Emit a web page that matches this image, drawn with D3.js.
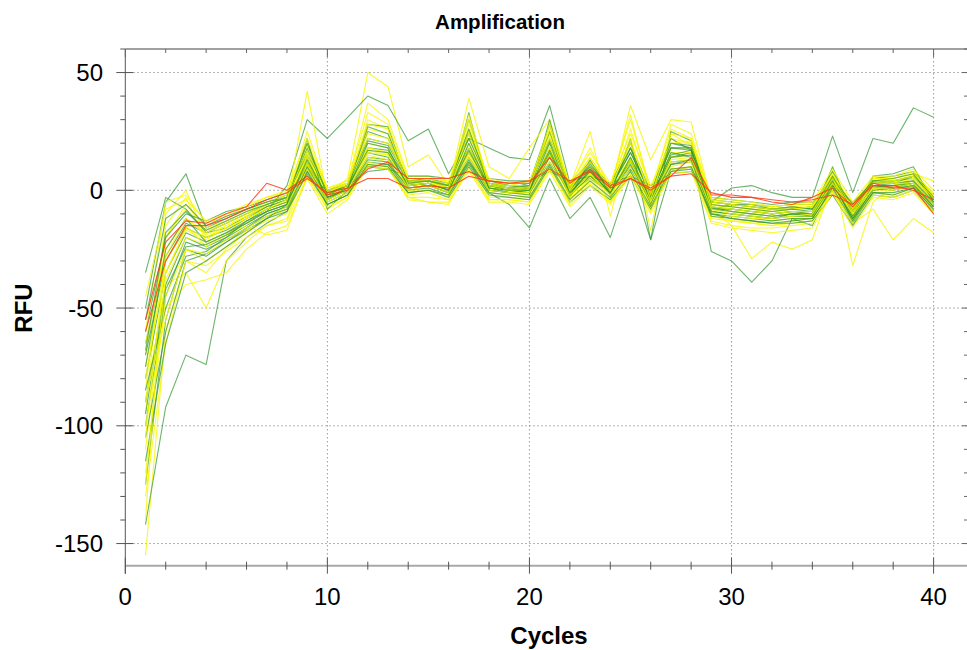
<!DOCTYPE html>
<html>
<head>
<meta charset="utf-8">
<script src="https://cdn.jsdelivr.net/npm/d3@7"></script>
<style>
    body { margin: 0; background: #fff; }
    svg { display: block; font-family: "Liberation Sans", Arial, sans-serif; }
    .trace { fill: none; stroke-width: 1.1; stroke-linejoin: round; }
</style>
</head>
<body>
<main id="root"></main>
<script>
"use strict";

// cycles 1..40
var cycles = d3.range( 1, 41 );

var x_ticks = [0, 10, 20, 30, 40];
var y_ticks = [50, 0, -50, -100, -150];

// green wells
var green_1  = [-65,-28,-14,-18,-16,-11,-7,-4,10,-1,1,14,13,3,2,1,14,2,1,0,15,1,6,0,10,-2,12,13,-5,1,2,-1,-3,-3,23,-1,22,20,35,31];
var green_2  = [-80,-35,-18,-22,-18,-14,-9,2,30,22,31,40,36,21,26,7,22,18,14,13,36,3,12,1,18,-2,20,18,-8,-6,-7,-8,-7,-8,4,-9,3,4,5,-3];
var green_3  = [-142,-92,-70,-74,-30,-20,-14,-9,8,-3,0,10,11,2,3,0,12,1,0,-1,12,-1,5,-1,9,-4,11,12,-8,-9,-10,-11,-10,-10,2,-10,1,0,2,-5];
var green_4  = [-125,-55,-25,-28,-22,-17,-12,-6,14,-4,1,18,17,4,5,2,18,3,2,1,18,0,8,-1,13,-6,14,16,-7,-8,-9,-10,-9,-9,5,-9,3,2,4,-4];
var green_5  = [-70,-30,-16,-20,-17,-12,-7,-4,12,-2,2,16,14,3,4,1,16,2,0,1,16,-1,7,0,12,-3,15,17,-26,-30,-39,-30,-12,-15,3,-12,2,1,3,-6];
var green_6  = [-90,-40,-20,-24,-20,-15,-10,-7,9,-5,-1,12,11,0,1,-2,12,-1,-6,-16,5,-12,-3,-20,6,-21,8,10,-10,-11,-12,-13,-12,-12,0,-14,-1,-2,1,-8];
var green_7  = [-50,-5,7,-16,-12,-8,-5,-2,15,0,3,22,20,5,5,3,24,4,2,2,22,2,10,1,16,-1,18,18,-4,-5,-6,-7,-6,-6,6,-7,4,3,6,-2];
var green_8  = [-35,-3,-8,-18,-14,-10,-6,-3,18,-1,2,25,22,4,4,2,30,3,1,3,28,1,12,2,20,-1,22,17,-5,-6,-6,-8,-8,-7,8,-8,5,6,8,-3];
var green_9  = [-100,-45,-22,-25,-21,-16,-11,-8,8,-6,-2,10,9,-1,0,-3,10,-2,-3,-4,10,-5,2,-4,6,-8,8,9,-11,-12,-13,-14,-14,-13,-2,-15,-2,-3,0,-9];
var green_10 = [-60,-20,-10,-13,-9,-7,-4,-1,6,0,2,8,9,6,6,5,8,5,4,4,8,4,6,3,6,2,7,8,-3,-4,-5,-6,-5,-5,2,-5,3,3,4,-5];
var green_11 = [-85,-50,-28,-26,-20,-13,-9,-6,22,-8,0,28,27,2,3,0,33,0,-1,-2,30,-3,13,-2,22,-21,25,21,-9,-10,-11,-12,-10,-11,10,-11,6,7,10,-5];
var green_12 = [-75,-25,-12,-22,-18,-13,-8,-5,11,-3,0,20,18,1,2,-1,20,1,-1,0,20,-2,9,-2,14,-4,16,14,-8,-8,-9,-10,-9,-10,4,-13,1,2,3,-7];
var green_13 = [-105,-60,-30,-27,-22,-16,-10,-7,10,-4,0,13,12,1,2,-1,13,0,-1,-1,14,-2,6,-1,11,-5,11,13,-9,-10,-11,-12,-11,-11,3,-12,0,1,2,-7];
var green_14 = [-55,-12,-6,-15,-11,-8,-5,-3,17,-1,2,21,19,4,4,2,22,3,1,2,21,1,9,1,16,-2,18,17,-5,-6,-7,-8,-7,-8,5,-6,4,4,6,-3];
var green_15 = [-95,-42,-24,-23,-19,-14,-9,-6,13,-3,1,17,16,2,3,0,17,1,0,0,17,-1,8,-1,12,-4,14,15,-7,-9,-10,-11,-10,-10,3,-11,2,1,3,-6];
var green_16 = [-68,-18,-9,-17,-13,-9,-6,-3,20,-2,2,27,24,3,4,2,26,2,1,2,25,0,11,1,18,-3,20,19,-6,-7,-8,-9,-8,-9,6,-9,4,5,7,-4];
var green_17 = [-115,-65,-35,-30,-24,-18,-12,-9,7,-6,-2,11,10,-1,0,-2,11,-1,-2,-3,11,-4,4,-3,8,-7,9,10,-10,-12,-13,-14,-13,-12,1,-13,-1,-1,1,-8];

// yellow wells
var yellow_1  = [-155,-60,-30,-35,-25,-18,-12,-8,12,-4,0,20,18,0,2,-1,18,0,-1,-2,16,-3,8,-2,14,-5,14,16,-10,-12,-14,-15,-13,-12,2,-12,0,0,2,-6];
var yellow_2  = [-95,-10,0,-20,-15,-11,-7,-4,16,-2,5,50,44,10,15,2,22,3,2,4,20,1,10,1,18,-2,18,18,-6,-7,-8,-9,-8,-8,6,-8,4,3,6,-1];
var yellow_3  = [-85,-15,-3,-22,-18,-12,-8,-5,42,-3,1,30,26,2,3,0,25,2,0,1,24,0,12,0,26,-1,22,20,-6,-7,-8,-10,-9,-9,5,-9,3,4,6,-3];
var yellow_4  = [-110,-40,-35,-50,-30,-22,-15,-12,10,-6,-2,14,12,-2,-1,-4,12,-3,-3,-4,12,-4,5,-4,10,-6,10,12,-11,-13,-14,-13,-12,-12,1,-12,-1,-2,1,-7];
var yellow_5  = [-70,-20,-8,-17,-14,-10,-6,-3,14,-1,2,18,16,2,3,1,20,2,0,1,18,0,8,0,14,-3,16,16,-8,-15,-29,-22,-25,-21,3,-10,2,2,4,-4];
var yellow_6  = [-65,-25,-12,-19,-15,-11,-6,-3,13,-2,1,17,15,3,3,1,16,1,0,0,17,0,7,-1,13,-4,14,15,-7,-9,-10,-11,-10,-11,9,-32,-5,2,3,-5];
var yellow_7  = [-80,-30,-15,-24,-19,-15,-19,-17,6,-8,-3,12,10,-4,-5,-6,10,-4,-4,-5,10,-6,3,-5,8,-8,8,10,-12,-13,-14,-15,-14,-13,0,-14,-8,-21,-12,-18];
var yellow_8  = [-75,-35,-17,-21,-16,-12,-8,-5,12,-3,1,18,16,1,2,0,18,1,0,0,18,-1,9,-1,36,13,30,29,-4,-6,-7,-8,-7,-7,6,-7,4,3,7,4];
var yellow_9  = [-90,-38,-20,-23,-19,-14,-9,-6,15,-2,2,24,22,3,4,1,39,10,5,18,30,2,25,-11,22,-17,24,19,-6,-8,-9,-10,-9,-10,4,-10,2,2,5,-4];
var yellow_10 = [-140,-20,-6,-16,-13,-9,-5,-2,20,0,3,37,30,6,6,3,28,4,3,3,26,2,14,2,30,0,26,22,-5,-6,-7,-9,-8,-7,7,-7,5,5,8,-2];
var yellow_11 = [-100,-50,-40,-38,-35,-25,-18,-15,5,-10,-4,10,9,-3,-5,-5,8,-5,-5,-6,8,-7,2,-6,6,-10,7,8,-14,-16,-17,-18,-17,-16,-1,-16,-3,-4,-1,-10];
var yellow_12 = [-60,-5,-2,-14,-11,-7,-3,0,22,1,4,26,24,5,5,4,26,5,3,4,24,3,16,3,24,2,20,21,-3,-4,-5,-7,-6,-5,9,-5,6,6,9,0];
var yellow_13 = [-120,-45,-25,-30,-24,-17,-13,-10,9,-5,-1,15,13,0,0,-2,14,-1,-2,-3,14,-3,6,-3,12,-7,12,13,-9,-11,-12,-12,-11,-11,3,-11,1,0,2,-8];
var yellow_14 = [-45,-8,-4,-13,-10,-6,-3,-1,19,1,3,33,28,5,5,2,32,3,2,2,28,2,18,1,32,-1,28,24,-4,-5,-6,-7,-6,-6,7,-6,5,5,7,-1];
var yellow_15 = [-130,-65,-30,-32,-26,-20,-15,-13,6,-7,-3,11,10,-3,-3,-4,9,-4,-4,-5,9,-5,4,-5,7,-9,9,10,-13,-15,-16,-16,-15,-14,-1,-13,-2,-3,0,-9];
var yellow_16 = [-105,-28,-12,-18,-14,-10,-6,-3,17,-1,3,22,20,4,4,2,24,3,1,2,22,1,12,1,20,-2,20,20,-5,-6,-7,-8,-8,-7,6,-8,4,4,6,-2];
var yellow_17 = [-88,-55,-25,-27,-21,-16,-11,-7,11,-4,0,16,15,1,2,-1,15,0,-1,-1,15,-2,7,-2,12,-5,13,14,-8,-10,-11,-12,-11,-10,3,-10,1,1,3,-6];
var yellow_18 = [-125,-35,-16,-20,-16,-12,-8,-4,25,0,2,28,26,2,3,1,30,2,1,1,26,0,14,0,22,-4,24,22,-7,-8,-9,-10,-9,-9,5,-9,3,3,5,-3];

// red wells
var red_1 = [-55,-22,-13,-14,-10,-7,3,0,6,-2,0,9,12,5,5,5,8,4,3,3,14,3,9,2,5,0,6,14,-2,-2,-3,-5,-6,-3,1,-7,3,1,1,-10];
var red_2 = [-60,-30,-15,-15,-12,-8,-4,-1,5,-1,1,5,5,1,2,1,6,4,3,4,9,4,8,1,5,1,6,7,-1,-3,-3,-4,-5,-4,-2,-6,2,2,0,-4];

var greens  = [green_1, green_2, green_3, green_4, green_5, green_6, green_7, green_8, green_9, green_10, green_11, green_12, green_13, green_14, green_15, green_16, green_17];
var yellows = [yellow_1, yellow_2, yellow_3, yellow_4, yellow_5, yellow_6, yellow_7, yellow_8, yellow_9, yellow_10, yellow_11, yellow_12, yellow_13, yellow_14, yellow_15, yellow_16, yellow_17, yellow_18];
var reds    = [red_1, red_2];

var width = 967;
var height = 650;

var plot_left = 125.3, plot_right = 968, plot_top = 49, plot_bottom = 565.7;

var x = d3.scaleLinear().domain([0, 40]).range([plot_left, 933.6]);
var y = d3.scaleLinear().domain([60, 0]).range([plot_top, 190.3]);

var svg = d3.select('main#root').append('svg')
    .attr('width', width)
    .attr('height', height);

// grid
var grid = svg.append('g').classed('grid', true)
    .attr('stroke', '#9a9a9a')
    .attr('stroke-dasharray', '1.5,2.5');

grid.selectAll('.vgrid').data( x_ticks.slice(1) ).enter().append('line')
    .attr('x1', function(d) { return x(d); })
    .attr('x2', function(d) { return x(d); })
    .attr('y1', plot_top)
    .attr('y2', plot_bottom);

grid.selectAll('.hgrid').data( y_ticks ).enter().append('line')
    .attr('x1', plot_left)
    .attr('x2', plot_right)
    .attr('y1', function(d) { return y(d); })
    .attr('y2', function(d) { return y(d); });

// traces
var trace_line = d3.line()
    .x(function(d, i) { return x( cycles[i] ); })
    .y(function(d) { return y(d); });

var traces = [];
for ( var i = 0; i < Math.max( greens.length, yellows.length ); i++ ) {
    if ( yellows[i] ) traces.push({ values: yellows[i], color: '#f6f600', opacity: 0.8 });
    if ( greens[i] )  traces.push({ values: greens[i],  color: '#2e962e', opacity: 0.7 });
}
reds.forEach(function(r) { traces.push({ values: r, color: '#ff3a1a', opacity: 0.85 }); });

svg.append('g').classed('traces', true)
    .selectAll('path').data( traces ).enter().append('path')
    .attr('class', 'trace')
    .attr('stroke', function(d) { return d.color; })
    .attr('stroke-opacity', function(d) { return d.opacity; })
    .attr('d', function(d) { return trace_line( d.values ); });

// frame
var minor_x = d3.range( 0, 42, 2 );
var minor_y = d3.range( -150, 61, 10 );

var frame = svg.append('g').classed('frame', true);

frame.append('line')
    .attr('x1', plot_left).attr('x2', plot_right).attr('y1', plot_top).attr('y2', plot_top)
    .attr('stroke', '#808080').attr('stroke-width', 1.5);

frame.append('line')
    .attr('x1', plot_left).attr('x2', plot_right).attr('y1', plot_bottom).attr('y2', plot_bottom)
    .attr('stroke', '#a8a8a8').attr('stroke-width', 2);

frame.append('line')
    .attr('x1', plot_left).attr('x2', plot_left).attr('y1', plot_top).attr('y2', plot_bottom + 8)
    .attr('stroke', '#555');

frame.append('line')
    .attr('x1', plot_right).attr('x2', plot_right).attr('y1', plot_top).attr('y2', plot_bottom)
    .attr('stroke', '#808080');

frame.selectAll('.xtick-bottom').data( minor_x ).enter().append('line')
    .attr('x1', function(d) { return x(d); })
    .attr('x2', function(d) { return x(d); })
    .attr('y1', function(d) { return d % 10 ? plot_bottom - 4 : plot_bottom - 8; })
    .attr('y2', function(d) { return d % 10 ? plot_bottom + 4 : plot_bottom + 8; })
    .attr('stroke', '#555');

frame.selectAll('.xtick-top').data( minor_x ).enter().append('line')
    .attr('x1', function(d) { return x(d); })
    .attr('x2', function(d) { return x(d); })
    .attr('y1', plot_top)
    .attr('y2', function(d) { return d % 10 ? plot_top + 4 : plot_top + 8; })
    .attr('stroke', '#666');

frame.selectAll('.ytick').data( minor_y ).enter().append('line')
    .attr('x1', function(d) { return d % 50 ? plot_left - 5 : plot_left - 9; })
    .attr('x2', function(d) { return d % 50 ? plot_left : plot_left + 8; })
    .attr('y1', function(d) { return y(d); })
    .attr('y2', function(d) { return y(d); })
    .attr('stroke', '#555');

frame.selectAll('.ytick-right').data( minor_y ).enter().append('line')
    .attr('x1', function(d) { return d % 50 ? plot_right - 4 : plot_right - 6; })
    .attr('x2', plot_right)
    .attr('y1', function(d) { return y(d); })
    .attr('y2', function(d) { return y(d); })
    .attr('stroke', '#666');

// labels
svg.append('g').selectAll('text').data( x_ticks ).enter().append('text')
    .attr('x', function(d) { return x(d); })
    .attr('y', 605)
    .attr('text-anchor', 'middle')
    .attr('font-size', 24)
    .text(function(d) { return d; });

svg.append('g').selectAll('text').data( y_ticks ).enter().append('text')
    .attr('x', 103)
    .attr('y', function(d) { return y(d) + 8.6; })
    .attr('text-anchor', 'end')
    .attr('font-size', 24)
    .text(function(d) { return d; });

svg.append('text')
    .attr('x', 500).attr('y', 29)
    .attr('text-anchor', 'middle')
    .attr('font-size', 20.5).attr('font-weight', 'bold')
    .text('Amplification');

svg.append('text')
    .attr('x', 549).attr('y', 644)
    .attr('text-anchor', 'middle')
    .attr('font-size', 24).attr('font-weight', 'bold')
    .text('Cycles');

svg.append('text')
    .attr('transform', 'translate(32,308) rotate(-90)')
    .attr('text-anchor', 'middle')
    .attr('font-size', 24).attr('font-weight', 'bold')
    .text('RFU');
</script>
</body>
</html>
